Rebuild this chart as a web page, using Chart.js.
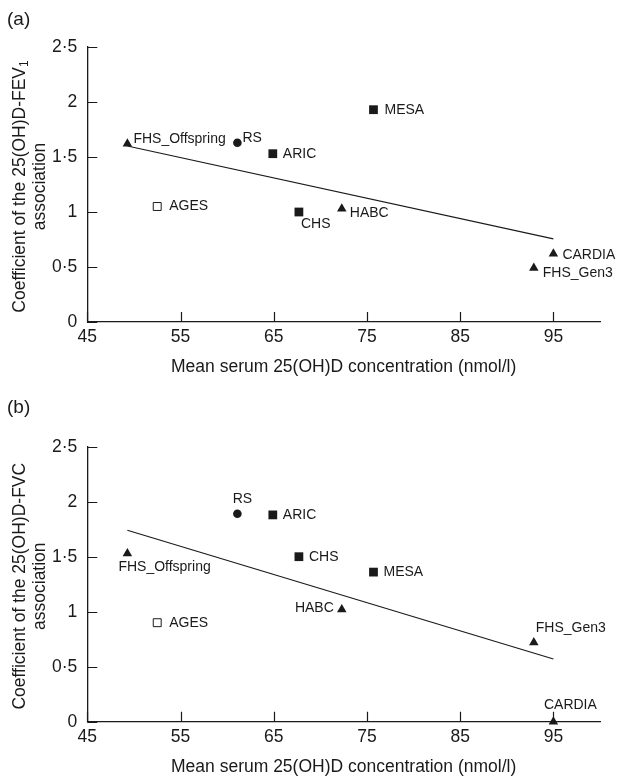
<!DOCTYPE html>
<html>
<head>
<meta charset="utf-8">
<script src="https://cdn.jsdelivr.net/npm/chart.js@4.4.0/dist/chart.umd.min.js"></script>
<style>
    html, body { margin: 0; padding: 0; background: #fff; }
    #wrapA { position: absolute; left: 0; top: 0; width: 617px; height: 380px; }
    #wrapB { position: absolute; left: 0; top: 380px; width: 617px; height: 398px; }
</style>
</head>
<body>
<div id="wrapA"><canvas id="chartA"></canvas></div>
<div id="wrapB"><canvas id="chartB"></canvas></div>
<script>
// study cohorts and values
const studies   = ['FHS_Offspring', 'RS', 'ARIC', 'MESA', 'AGES', 'CHS', 'HABC', 'CARDIA', 'FHS_Gen3'];
const meanVitD  = [49.3, 61.1, 64.9, 75.7, 52.5, 67.7, 72.3, 95.0, 92.9];
const coefFEV1  = [1.62, 1.63, 1.53, 1.93, 1.05, 1.00, 1.03, 0.62, 0.49];
const coefFVC   = [1.53, 1.89, 1.88, 1.36, 0.90, 1.50, 1.02, 0.00, 0.72];
const markers   = ['triangle', 'circle', 'square', 'square', 'open', 'square', 'triangle', 'triangle', 'triangle'];

// regression lines (end points)
const fitFEV1X = [49.3, 95];
const fitFEV1Y = [1.60, 0.755];
const fitFVCX  = [49.3, 95];
const fitFVCY  = [1.74, 0.57];

const xTicks = [45, 55, 65, 75, 85, 95];
const yTicks = [0, 0.5, 1, 1.5, 2, 2.5];

const FONT = "'Liberation Sans', Arial, sans-serif";
const INK = '#1a1a1a';

// label placement relative to marker: [dx, dy, align]
const labelPosA = {
    FHS_Offspring: [6, -5, 'left'], RS: [5, -5, 'left'], ARIC: [10, 0, 'left'],
    MESA: [11, 0, 'left'], AGES: [12, 0, 'left'], CHS: [2, 12, 'left'],
    HABC: [8, 4, 'left'], CARDIA: [9, 1, 'left'], FHS_Gen3: [9, 5, 'left']
};
const labelPosB = {
    FHS_Offspring: [-9, 14, 'left'], RS: [5, -15, 'center'], ARIC: [10, 0, 'left'],
    MESA: [10, 0, 'left'], AGES: [12, 0, 'left'], CHS: [10, 0, 'left'],
    HABC: [-8, -1, 'right'], CARDIA: [17, -17, 'center'], FHS_Gen3: [2, -14, 'left']
};

// marker styles
function pStyle(m) { return m === 'triangle' ? 'triangle' : (m === 'circle' ? 'circle' : 'rect'); }
function pRadius(m) { return m === 'triangle' ? 5.5 : (m === 'circle' ? 4.3 : (m === 'open' ? 5.6 : 6.2)); }

// inward ticks, point labels, axis titles, panel letter
const decoPlugin = {
    id: 'deco',
    afterDraw(chart, args, opts) {
        const ctx = chart.ctx;
        const area = chart.chartArea;
        const xs = chart.scales.x, ys = chart.scales.y;
        ctx.save();
        ctx.strokeStyle = INK;
        ctx.lineWidth = 1.2;
        ctx.beginPath();
        xTicks.forEach(v => {
            const px = Math.round(xs.getPixelForValue(v)) + 0.5;
            ctx.moveTo(px, area.bottom);
            ctx.lineTo(px, area.bottom - 10);
        });
        yTicks.forEach(v => {
            const py = Math.round(ys.getPixelForValue(v)) + 0.5;
            ctx.moveTo(area.left, py);
            ctx.lineTo(area.left + 10, py);
        });
        ctx.stroke();

        // study labels
        ctx.fillStyle = INK;
        ctx.font = '14px ' + FONT;
        ctx.textBaseline = 'middle';
        const yVals = opts.yValues;
        studies.forEach((s, i) => {
            const pos = opts.labelPos[s];
            const px = xs.getPixelForValue(meanVitD[i]);
            const py = ys.getPixelForValue(yVals[i]);
            ctx.textAlign = pos[2];
            ctx.fillText(s, px + pos[0], py + pos[1]);
        });

        // x axis title
        ctx.font = '17.5px ' + FONT;
        ctx.textAlign = 'center';
        ctx.fillText('Mean serum 25(OH)D concentration (nmol/l)', (area.left + area.right) / 2, area.bottom + 45);

        // y axis title (two lines, rotated)
        const cy = (area.top + area.bottom) / 2 + 2;
        ctx.save();
        ctx.translate(20, cy);
        ctx.rotate(-Math.PI / 2);
        ctx.font = '17.5px ' + FONT;
        const w1 = ctx.measureText(opts.yTitle).width;
        let ws = 0;
        if (opts.ySub) {
            ctx.font = '12px ' + FONT;
            ws = ctx.measureText(opts.ySub).width;
        }
        const start = -(w1 + ws) / 2;
        ctx.font = '17.5px ' + FONT;
        ctx.textAlign = 'left';
        ctx.fillText(opts.yTitle, start, 0);
        if (opts.ySub) {
            ctx.font = '12px ' + FONT;
            ctx.fillText(opts.ySub, start + w1, 5);
        }
        ctx.restore();
        ctx.save();
        ctx.translate(40, cy);
        ctx.rotate(-Math.PI / 2);
        ctx.font = '17.5px ' + FONT;
        ctx.textAlign = 'center';
        ctx.fillText('association', 0, 0);
        ctx.restore();

        // panel letter
        ctx.font = '19px ' + FONT;
        ctx.textAlign = 'left';
        ctx.fillText(opts.panel, 7, opts.panelY);
        ctx.restore();
    }
};

function makeChart(canvasId, yValues, fitX, fitY, padTop, xAxisH, deco) {
    const ctx = document.getElementById(canvasId).getContext('2d');
    return new Chart(ctx, {
        type: 'scatter',
        data: {
            datasets: [{
                type: 'line',
                data: fitX.map((x, i) => ({ x: x, y: fitY[i] })),
                borderColor: INK,
                borderWidth: 1.2,
                pointRadius: 0,
                fill: false,
                clip: false
            }, {
                data: meanVitD.map((x, i) => ({ x: x, y: yValues[i] })),
                pointStyle: markers.map(pStyle),
                pointRadius: markers.map(pRadius),
                pointHoverRadius: markers.map(pRadius),
                backgroundColor: markers.map(m => m === 'open' ? '#fff' : INK),
                borderColor: INK,
                borderWidth: markers.map(m => m === 'open' ? 1 : 0),
                clip: false
            }]
        },
        options: {
            responsive: true,
            maintainAspectRatio: false,
            animation: false,
            events: [],
            layout: { padding: { top: padTop, right: 17, left: 0, bottom: 0 } },
            scales: {
                x: {
                    type: 'linear',
                    min: 45,
                    max: 100,
                    afterBuildTicks: s => { s.ticks = xTicks.map(v => ({ value: v })); },
                    afterFit: s => { s.height = xAxisH; },
                    grid: { display: false, drawTicks: false },
                    border: { display: true, color: INK, width: 1.3 },
                    ticks: { color: INK, padding: 5, font: { family: FONT, size: 17.5 }, maxRotation: 0 }
                },
                y: {
                    min: 0,
                    max: 2.5,
                    afterBuildTicks: s => { s.ticks = yTicks.map(v => ({ value: v })); },
                    afterFit: s => { s.width = 87.3; },
                    grid: { display: false, drawTicks: false },
                    border: { display: true, color: INK, width: 1.3 },
                    ticks: {
                        color: INK, padding: 10, font: { family: FONT, size: 17.5 },
                        callback: v => String(v).replace('.', '·')
                    }
                }
            },
            plugins: {
                legend: { display: false },
                tooltip: { enabled: false },
                deco: deco
            }
        },
        plugins: [decoPlugin]
    });
}

document.addEventListener('DOMContentLoaded', function() {
    makeChart('chartA', coefFEV1, fitFEV1X, fitFEV1Y, 47, 58, {
        yValues: coefFEV1, labelPos: labelPosA,
        yTitle: 'Coefficient of the 25(OH)D-FEV', ySub: '1',
        panel: '(a)', panelY: 20
    });
    makeChart('chartB', coefFVC, fitFVCX, fitFVCY, 66.7, 56.3, {
        yValues: coefFVC, labelPos: labelPosB,
        yTitle: 'Coefficient of the 25(OH)D-FVC', ySub: '',
        panel: '(b)', panelY: 28
    });
});
</script>
</body>
</html>
